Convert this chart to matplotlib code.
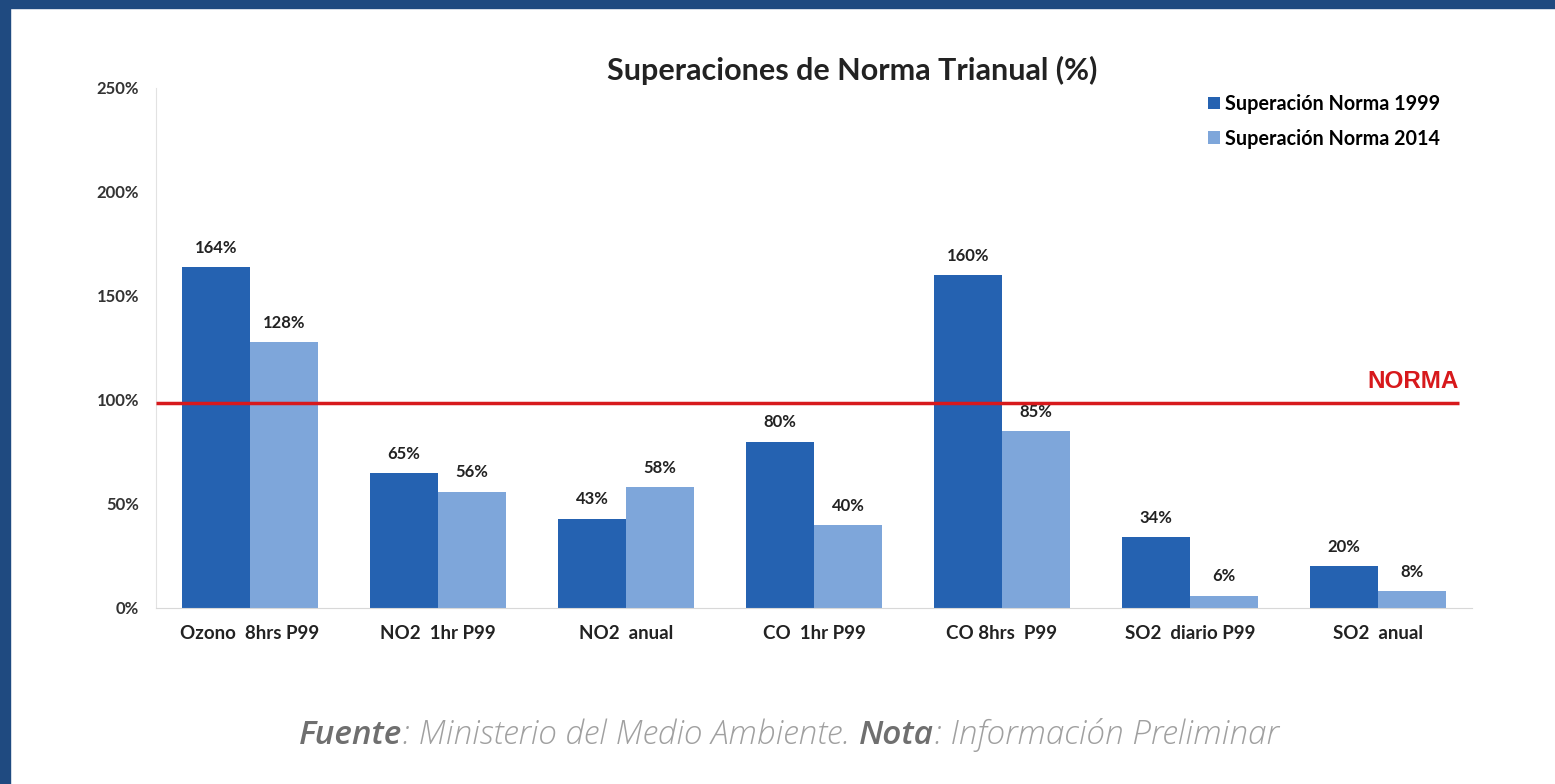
"""
Superaciones de Norma Trianual (%)
"""

import numpy as np
import matplotlib
matplotlib.use('Agg')
import matplotlib.pyplot as plt

plt.rcParams['font.family'] = ['Lato', 'DejaVu Sans']

# datos
categorias = ['Ozono  8hrs P99', 'NO2  1hr P99', 'NO2  anual', 'CO  1hr P99',
              'CO 8hrs  P99', 'SO2  diario P99', 'SO2  anual']
norma_1999 = [164, 65, 43, 80, 160, 34, 20]
norma_2014 = [128, 56, 58, 40, 85, 6, 8]
series = ['Superación Norma 1999', 'Superación Norma 2014']
yticks = [0, 50, 100, 150, 200, 250]
NORMA = 98.5

color_1999 = '#2562b1'
color_2014 = '#7ea6da'
borde = '#1f4a80'

fig = plt.figure(figsize=(15.55, 7.84), dpi=100)
fig.patch.set_facecolor('white')

# marco azul (arriba e izquierda)
fig.patches.append(plt.Rectangle((0, 1 - 8 / 784), 1, 8 / 784, transform=fig.transFigure,
                                 color=borde, zorder=10))
fig.patches.append(plt.Rectangle((0, 0), 10 / 1555, 1, transform=fig.transFigure,
                                 color=borde, zorder=10))

ax = fig.add_axes([156 / 1555, 1 - 608 / 784, (1472 - 156) / 1555, (608 - 88) / 784])

x = np.arange(len(categorias))
w = 0.362
b1 = ax.bar(x - w / 2, norma_1999, w, color=color_1999, label=series[0])
b2 = ax.bar(x + w / 2, norma_2014, w, color=color_2014, label=series[1])

for bars, vals in ((b1, norma_1999), (b2, norma_2014)):
    for bar, v in zip(bars, vals):
        ax.annotate(f'{v}%', xy=(bar.get_x() + bar.get_width() / 2, bar.get_height()),
                    xytext=(0, 8), textcoords='offset points', ha='center', va='bottom',
                    fontsize=12, fontweight='bold', color='#222222')

# linea de norma
ax.plot([-0.5, 6.43], [NORMA, NORMA], color='#d7191c', lw=2.5, zorder=5, solid_capstyle='butt')
ax.text(6.43, NORMA + 5, 'NORMA', ha='right', va='bottom', color='#d7191c',
        fontsize=17.5, fontweight='bold', family=['Liberation Sans', 'DejaVu Sans'])

ax.set_xlim(-0.5, 6.5)
ax.set_ylim(0, 250)
ax.set_yticks(yticks)
ax.set_yticklabels([f'{t}%' for t in yticks], fontsize=12, fontweight='bold', color='#333333')
ax.set_xticks(x)
ax.set_xticklabels(categorias, fontsize=13.5, fontweight='bold', color='#222222')
ax.tick_params(axis='both', length=0)
ax.tick_params(axis='y', pad=12)
ax.tick_params(axis='x', pad=12)
for s in ('top', 'right'):
    ax.spines[s].set_visible(False)
ax.spines['left'].set_color('#e2e2e2')
ax.spines['bottom'].set_color('#d8d8d8')

fig.text(852 / 1555, 1 - 70 / 784, 'Superaciones de Norma Trianual (%)', ha='center', va='center',
         fontsize=22, fontweight='bold', color='#222222')

ax.legend(loc='upper left', bbox_to_anchor=(1190 / 1555, 1 - 76 / 784),
          bbox_transform=fig.transFigure, frameon=False,
          handlelength=0.6, handleheight=0.6, handletextpad=0.25, labelspacing=0.75,
          prop={'weight': 'bold', 'size': 14.2})

# nota al pie
partes = [('Fuente', 'semibold', '#6f6f6f'),
          (': Ministerio del Medio Ambiente. ', 'light', '#a0a0a0'),
          ('Nota', 'semibold', '#6f6f6f'),
          (': Información Preliminar', 'light', '#a0a0a0')]
prev = None
for txt, peso, col in partes:
    kw = dict(fontsize=24, style='italic', fontweight=peso, color=col,
              family=['Open Sans', 'DejaVu Sans'], va='bottom')
    if prev is None:
        prev = fig.text(299 / 1555, 1 - 752 / 784, txt, ha='left', **kw)
    else:
        prev = ax.annotate(txt, xy=(1, 0), xycoords=prev, ha='left',
                           annotation_clip=False, **kw)

fig.savefig('out.png', dpi=100)
